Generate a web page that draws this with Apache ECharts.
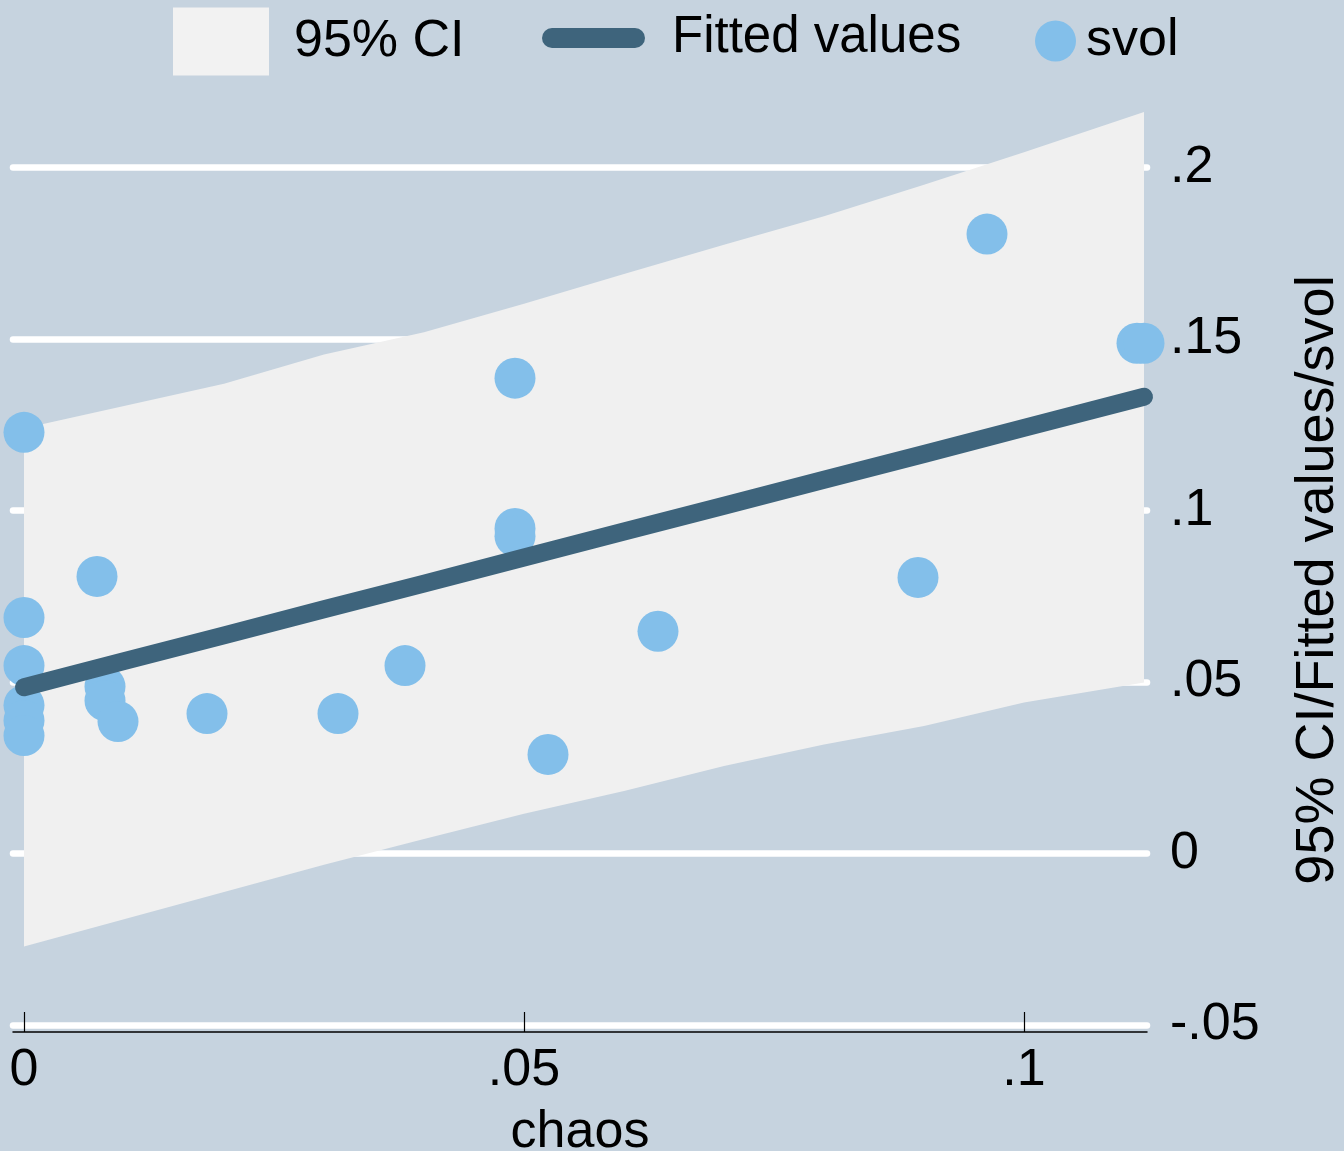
<!DOCTYPE html>
<html>
<head>
<meta charset="utf-8">
<title>svol vs chaos</title>
<script src="https://cdn.jsdelivr.net/npm/echarts@6/dist/echarts.min.js"></script>
<style>
  html, body { margin: 0; padding: 0; background: #c6d3df; }
  #chart { width: 1344px; height: 1151px; }
</style>
</head>
<body>
<div id="chart"></div>
<script>
// Confidence band and fitted line, sampled along chaos
const ciX      = [0, 0.01, 0.02, 0.03, 0.04, 0.05, 0.06, 0.07, 0.08, 0.09, 0.10, 0.112];
const ciUpper  = [0.1240, 0.1305, 0.1370, 0.1455, 0.1520, 0.1603, 0.1690, 0.1775, 0.1858, 0.1950, 0.2045, 0.2162];
const ciLower  = [-0.0271, -0.0192, -0.0112, -0.0033, 0.0042, 0.0116, 0.0182, 0.0255, 0.0318, 0.0372, 0.0440, 0.0499];
const fitY     = [0.0485, 0.0561, 0.0636, 0.0712, 0.0787, 0.0863, 0.0939, 0.1014, 0.1090, 0.1165, 0.1241, 0.1332];

// Observations
const chaos = [0, 0, 0, 0, 0, 0, 0.0073, 0.0081, 0.0081, 0.0094, 0.0183, 0.0314, 0.0381,
               0.0491, 0.0491, 0.0491, 0.0524, 0.0634, 0.0894, 0.0963, 0.1113, 0.1120];
const svol  = [0.1228, 0.0688, 0.0548, 0.0432, 0.0388, 0.0344, 0.0808, 0.0487, 0.0446, 0.0385, 0.0408, 0.0408, 0.0548,
               0.1386, 0.0948, 0.0925, 0.0289, 0.0648, 0.0805, 0.1806, 0.1488, 0.1488];

// Axis ticks
const xTicks = [0, 0.05, 0.1];
const yTicks = [-0.05, 0, 0.05, 0.1, 0.15, 0.2];

const BG = '#c6d3df';
const BAND = '#f0f0f0';
const LINE = '#3e647c';
const DOT = '#83bfea';
const FONT = 'Liberation Sans, Arial, Helvetica, sans-serif';

function stataNum(v) {
  if (v === 0) return '0';
  return String(v).replace('0.', '.');
}

const chart = echarts.init(document.getElementById('chart'), null, { renderer: 'canvas' });

const legendText = (pad) => ({
  fontFamily: FONT, fontSize: 52, color: '#000', lineHeight: 56, padding: pad
});

chart.setOption({
  backgroundColor: BG,
  animation: false,
  textStyle: { fontFamily: FONT },
  grid: {
    left: 13, right: 197, top: 111, bottom: 126,
    containLabel: false, outerBoundsMode: 'none'
  },
  legend: [
    {
      data: [{ name: '95% CI', icon: 'rect', itemStyle: { color: '#f2f2f2', borderWidth: 0 } }],
      left: 173, top: 7, padding: 0,
      itemWidth: 96, itemHeight: 68,
      selectedMode: false,
      textStyle: legendText([0, 0, 13, 20])
    },
    {
      data: [{
        name: 'Fitted values',
        icon: 'path://M10,0 L93,0 A10,10 0 0 1 93,20 L10,20 A10,10 0 0 1 10,0 Z',
        itemStyle: { color: LINE, borderWidth: 0 }
      }],
      left: 542, top: 7, padding: 0,
      itemWidth: 103, itemHeight: 20,
      selectedMode: false,
      textStyle: Object.assign(legendText([0, 0, 6, 22]), { fontSize: 51 })
    },
    {
      data: [{ name: 'svol', icon: 'circle', itemStyle: { color: DOT, borderWidth: 0 } }],
      left: 1035, top: 7, padding: 0,
      itemWidth: 41, itemHeight: 41,
      selectedMode: false,
      textStyle: legendText([0, 0, 12, 5])
    }
  ],
  xAxis: {
    type: 'value',
    min: -0.0011,
    max: 0.1123,
    offset: 7,
    name: 'chaos',
    nameLocation: 'middle',
    nameGap: 75,
    nameTextStyle: { fontFamily: FONT, fontSize: 52, color: '#000', lineHeight: 52 },
    axisLine: { show: true, onZero: false, lineStyle: { color: '#000', width: 1.5 } },
    axisTick: { show: true, inside: true, length: 20, customValues: xTicks, lineStyle: { color: '#000', width: 1.2 } },
    axisLabel: {
      customValues: xTicks, margin: 13, fontFamily: FONT, fontSize: 52, color: '#000', lineHeight: 52,
      formatter: stataNum
    },
    splitLine: { show: false }
  },
  yAxis: {
    type: 'value',
    position: 'right',
    min: -0.05,
    max: 0.2165,
    interval: 0.05,
    name: '95% CI/Fitted values/svol',
    nameLocation: 'middle',
    nameGap: 144,
    nameTextStyle: { fontFamily: FONT, fontSize: 54, color: '#000', lineHeight: 54, padding: [0, 24, 0, 0] },
    axisLine: { show: false },
    axisTick: { show: false },
    axisLabel: {
      customValues: yTicks, margin: 23, fontFamily: FONT, fontSize: 52, color: '#000', lineHeight: 52,
      padding: [18, 0, 0, 0], formatter: stataNum
    },
    splitLine: {
      show: true, showMaxLine: false,
      lineStyle: { color: '#ffffff', width: 6.5, cap: 'round' }
    }
  },
  series: [
    {
      name: '95% CI',
      type: 'custom',
      coordinateSystem: 'cartesian2d',
      itemStyle: { color: BAND },
      data: ciX.map((x, i) => [x, ciLower[i], ciUpper[i]]),
      encode: { x: 0, y: [1, 2] },
      renderItem: function (params, api) {
        if (params.dataIndex !== 0) return;
        const pts = [];
        for (let i = 0; i < ciX.length; i++) pts.push(api.coord([ciX[i], ciUpper[i]]));
        for (let i = ciX.length - 1; i >= 0; i--) pts.push(api.coord([ciX[i], ciLower[i]]));
        return { type: 'polygon', shape: { points: pts }, style: { fill: BAND } };
      },
      silent: true
    },
    {
      name: 'Fitted values',
      type: 'line',
      data: ciX.map((x, i) => [x, fitY[i]]),
      symbol: 'none',
      itemStyle: { color: LINE },
      lineStyle: { color: LINE, width: 18, cap: 'round', join: 'round' },
      silent: true
    },
    {
      name: 'svol',
      type: 'scatter',
      data: chaos.map((x, i) => [x, svol[i]]),
      symbol: 'circle',
      symbolSize: 41,
      itemStyle: { color: DOT, borderWidth: 0, opacity: 1 },
      clip: false,
      silent: true
    }
  ]
});
</script>
</body>
</html>
